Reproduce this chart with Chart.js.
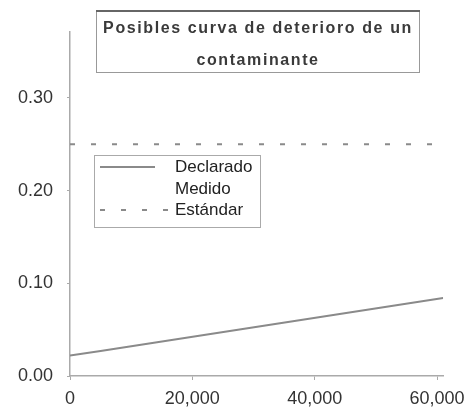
<!DOCTYPE html>
<html>
<head>
<meta charset="utf-8">
<script src="https://cdn.jsdelivr.net/npm/chart.js@4.4.1/dist/chart.umd.min.js"></script>
<style>
  html, body { margin: 0; padding: 0; background: #fff; }
  #wrap { width: 473px; height: 413px; position: relative; }
</style>
</head>
<body>
<div id="wrap"><canvas id="c" width="473" height="413"></canvas></div>
<script>
// Series values
const declaradoX = [0, 5000, 61000];
const declaradoY = [0.022, 0.027, 0.084];
const medidoX = [];
const medidoY = [];
const estandarX = [0, 60500];
const estandarY = [0.25, 0.25];

// Axis ticks
const xTicks = [0, 20000, 40000, 60000];
const yTicks = [0.00, 0.10, 0.20, 0.30];

const titleLines = ['Posibles curva de deterioro de un', 'contaminante'];
const seriesNames = ['Declarado', 'Medido', 'Estándar'];

const toPoints = (xs, ys) => xs.map((x, i) => ({ x: x, y: ys[i] }));

const FONT = '"Liberation Sans", Arial, sans-serif';
const TEXT = '#333';
const AXIS = '#aaa';

// Boxed title and in-plot legend
const boxes = {
  id: 'boxes',
  afterDraw(chart) {
    const ctx = chart.ctx;
    ctx.save();
    // title frame
    ctx.strokeStyle = '#999';
    ctx.lineWidth = 1;
    ctx.strokeRect(96.5, 10.5, 323, 62);
    ctx.strokeStyle = '#666';
    ctx.lineWidth = 2;
    ctx.beginPath(); ctx.moveTo(96, 11); ctx.lineTo(420, 11); ctx.stroke();
    ctx.fillStyle = '#3a3a3a';
    ctx.font = 'bold 16px ' + FONT;
    ctx.letterSpacing = '1.6px';
    ctx.textAlign = 'center';
    ctx.textBaseline = 'middle';
    ctx.fillText(titleLines[0], 258, 29);
    ctx.fillText(titleLines[1], 258, 61);
    ctx.letterSpacing = '0px';

    // legend frame
    ctx.strokeStyle = '#aaa';
    ctx.lineWidth = 1;
    ctx.strokeRect(94.5, 155.5, 166, 72);
    ctx.font = '17px ' + FONT;
    ctx.textAlign = 'left';
    const rows = [167, 189, 210];
    chart.data.datasets.forEach((ds, i) => {
      const y = rows[i];
      ctx.strokeStyle = ds.borderColor;
      ctx.lineWidth = ds.borderWidth;
      ctx.setLineDash(ds.borderDash || []);
      ctx.beginPath();
      ctx.moveTo(100, y);
      ctx.lineTo(i === 2 ? 172 : 155, y);
      ctx.stroke();
      ctx.setLineDash([]);
      ctx.fillStyle = '#222';
      ctx.fillText(ds.label, 175, y);
    });
    ctx.restore();
  }
};

new Chart(document.getElementById('c'), {
  type: 'line',
  data: {
    datasets: [
      { label: seriesNames[0], data: toPoints(declaradoX, declaradoY),
        borderColor: '#8a8a8a', borderWidth: 2, pointRadius: 0, tension: 0 },
      { label: seriesNames[1], data: toPoints(medidoX, medidoY),
        borderColor: '#ffffff', borderWidth: 2, pointRadius: 0 },
      { label: seriesNames[2], data: toPoints(estandarX, estandarY),
        borderColor: '#8a8a8a', borderWidth: 2, borderDash: [5, 16], pointRadius: 0 }
    ]
  },
  options: {
    responsive: false,
    animation: false,
    layout: { padding: { top: 32, right: 28, left: 0, bottom: 0 } },
    plugins: { legend: { display: false }, title: { display: false }, tooltip: { enabled: false } },
    scales: {
      x: {
        type: 'linear', min: 0, max: 61000,
        afterBuildTicks: s => { s.ticks = xTicks.map(v => ({ value: v })); },
        afterFit: s => { s.height = 37; },
        grid: { drawOnChartArea: false, drawTicks: true, tickLength: 4, color: AXIS },
        border: { display: true, color: AXIS, width: 1.5 },
        ticks: { color: TEXT, padding: 8, maxRotation: 0, font: { family: FONT, size: 18 },
                 callback: v => v.toLocaleString('en-US') }
      },
      y: {
        type: 'linear', min: 0, max: 0.371,
        afterBuildTicks: s => { s.ticks = yTicks.map(v => ({ value: v })); },
        afterFit: s => { s.width = 70; },
        grid: { drawOnChartArea: false, drawTicks: true, tickLength: 3, color: AXIS },
        border: { display: true, color: AXIS, width: 1.5 },
        ticks: { color: TEXT, padding: 14, font: { family: FONT, size: 18 },
                 callback: v => v.toFixed(2) }
      }
    }
  },
  plugins: [boxes]
});
</script>
</body>
</html>
